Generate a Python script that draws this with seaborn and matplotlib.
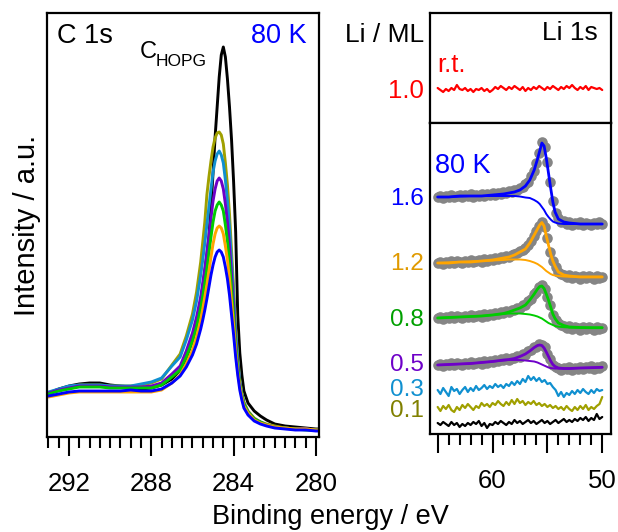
import matplotlib
matplotlib.use("Agg")
import matplotlib.pyplot as plt
import seaborn as sns
from matplotlib.ticker import MultipleLocator, FixedLocator, FixedFormatter

# ---------------- C 1s panel data (binding energy / eV, intensity a.u.) ----------------
c1s_be = [293.0, 292.5, 292.0, 291.5, 291.0, 290.5, 290.0, 289.5, 289.0, 288.5, 288.0, 287.5, 287.0,
          286.6, 286.3, 286.0, 285.8, 285.6, 285.5, 285.4, 285.3, 285.2, 285.1,
          285.0, 284.9, 284.8, 284.7, 284.6, 284.5, 284.4, 284.3, 284.2, 284.1, 284.0, 283.9, 283.8, 283.7, 283.6, 283.5,
          283.3, 283.0, 282.7, 282.4, 282.0, 281.5, 281.0, 280.5, 280.0, 279.9]
c1s_hopg = [44, 48, 51, 53, 54, 54, 52, 51, 50, 48, 49, 52, 58,
            67, 79, 96, 112, 137, 150, 166, 182, 200, 230,
            264, 300, 330, 360, 382, 390, 380, 358, 330, 297, 255, 205, 122, 84, 62, 46,
            34, 26, 21, 17, 13, 11, 10, 9, 8, 8]
c1s_01 = [44, 47, 50, 52, 52, 52, 51, 51, 51, 52, 54, 58, 72,
          83, 101, 123, 145, 175, 195, 215, 242, 260, 276,
          290, 299, 304, 305, 302, 293, 274, 252, 223, 186, 149, 109, 80, 57, 44, 35,
          26, 19, 15, 13, 11, 9, 8, 8, 7, 7]
c1s_03 = [45, 48, 51, 52, 52, 52, 51, 51, 51, 53, 55, 59, 71,
          80, 97, 117, 136, 162, 177, 194, 212, 230, 248,
          265, 276, 283, 286, 282, 274, 257, 236, 209, 175, 141, 104, 78, 56, 43, 34,
          25, 18, 15, 12, 10, 9, 8, 8, 7, 7]
c1s_05 = [44, 47, 49, 51, 51, 51, 50, 50, 50, 50, 51, 54, 63,
          71, 86, 104, 120, 140, 154, 168, 184, 201, 219,
          236, 248, 256, 259, 256, 248, 233, 215, 191, 161, 131, 97, 73, 54, 42, 33,
          25, 18, 15, 12, 10, 9, 8, 8, 7, 7]
c1s_08 = [43, 46, 48, 50, 50, 50, 49, 49, 49, 49, 49, 52, 60,
          67, 80, 96, 110, 129, 141, 154, 168, 184, 200,
          215, 226, 232, 235, 232, 226, 212, 196, 175, 148, 121, 92, 70, 53, 42, 33,
          25, 18, 15, 12, 10, 9, 8, 7, 7, 7]
c1s_12 = [40, 42, 44, 45, 45, 45, 45, 45, 45, 45, 45, 47, 54,
          62, 73, 87, 100, 117, 128, 140, 152, 166, 180,
          193, 203, 209, 211, 209, 203, 191, 177, 158, 135, 112, 86, 65, 51, 40, 31,
          24, 17, 14, 12, 10, 9, 8, 8, 7, 7]
c1s_16 = [41, 43, 45, 46, 46, 46, 46, 46, 47, 46, 46, 48, 54,
          61, 70, 82, 93, 108, 117, 127, 138, 150, 162,
          172, 180, 185, 187, 185, 180, 170, 158, 142, 122, 102, 80, 62, 47, 37, 29,
          22, 16, 13, 11, 9, 8, 7, 7, 6, 6]

# ---------------- Li 1s panel data ----------------
li_fit_be = [65, 64, 63, 62, 61, 60, 59, 58.5, 58, 57.5, 57,
             56.6, 56.2, 55.9, 55.7, 55.5, 55.3, 55.1, 54.9, 54.7, 54.5, 54.3, 54.0,
             53.5, 53, 52, 51, 50]
fit16 = [237, 237, 238, 238, 238, 239, 240, 241, 242, 244, 248,
         254, 264, 275, 283, 291, 288, 276, 261, 246, 232, 222, 215,
         212, 211, 210, 210, 210]
bg16 = [237, 237, 237.5, 238, 238, 238, 238, 238, 238, 237.5, 236.5,
        236, 234, 232, 230, 227, 224, 220, 217, 214.5, 212.5, 211.5, 210.5,
        210, 210, 210, 210, 210]
fit12 = [171, 171, 172, 172, 173, 174, 176, 177, 179, 182, 185,
         191, 199, 205, 209, 211.5, 208, 198, 189, 180, 173, 168, 162,
         159, 158, 157, 157, 157]
bg12 = [171, 171.5, 172, 172.5, 173, 173.5, 174, 174.5, 174.5, 174.5, 174,
        173, 171.5, 170, 168.5, 167, 165, 163, 161.5, 160, 159, 158.5, 158,
        157.5, 157.3, 157.3, 157.3, 157.3]
fit08 = [116, 116.5, 117, 117.5, 118, 119, 120.5, 122, 124, 126, 129,
         134, 140, 145, 147.5, 148, 145.5, 140, 134, 127, 120, 115.5, 111,
         108.5, 107, 106.5, 106.3, 106.3]
bg08 = [116, 116.5, 117, 117.5, 118, 119, 120, 120.5, 120.5, 120.5, 120,
        119.5, 118.5, 117.5, 116.5, 115.5, 114, 112.5, 111, 110, 109, 108, 107.3,
        106.8, 106.5, 106.3, 106.3, 106.3]
fit05 = [69, 69.5, 70, 70.5, 71.5, 72.5, 74, 74.5, 75.5, 77.5, 80,
         83, 86.5, 88.5, 89, 88.5, 86, 82, 77.5, 73, 69.5, 67.5, 66,
         65.5, 65.5, 66, 66.3, 66.7]
bg05 = [69, 69.5, 70, 70.5, 71.5, 72.5, 73.5, 74, 74, 74, 73.5,
        73, 72.5, 71.5, 70.5, 69.5, 68.5, 67.5, 66.5, 66, 65.7, 65.5, 65.5,
        65.5, 65.5, 66, 66.3, 66.7]

li_be = [65.0, 64.75, 64.5, 64.25, 64.0, 63.75, 63.5, 63.25, 63.0, 62.75,
         62.5, 62.25, 62.0, 61.75, 61.5, 61.25, 61.0, 60.75, 60.5, 60.25,
         60.0, 59.75, 59.5, 59.25, 59.0, 58.75, 58.5, 58.25, 58.0, 57.75,
         57.5, 57.25, 57.0, 56.75, 56.5, 56.25, 56.0, 55.75, 55.5, 55.25,
         55.0, 54.75, 54.5, 54.25, 54.0, 53.75, 53.5, 53.25, 53.0, 52.75,
         52.5, 52.25, 52.0, 51.75, 51.5, 51.25, 51.0, 50.75, 50.5, 50.25,
         50.0]
pts16 = [237, 238, 236, 238, 237, 239, 237, 238, 239, 237,
         239, 238, 240, 237, 239, 238, 240, 238, 240, 239,
         241, 239, 241, 240, 242, 241, 243, 242, 244, 244,
         246, 247, 250, 252, 258, 263, 271, 281, 292, 287,
         272, 252, 233, 221, 216, 212, 213, 210, 212, 209,
         211, 210, 212, 209, 211, 210, 209, 211, 210, 212,
         210]
pts12 = [171, 172, 170, 172, 171, 173, 171, 173, 172, 171,
         173, 172, 174, 172, 173, 174, 172, 175, 173, 175,
         174, 176, 175, 177, 176, 178, 177, 179, 180, 181,
         183, 184, 186, 189, 193, 198, 203, 208, 212, 207,
         196, 182, 173, 167, 162, 160, 159, 157, 159, 156,
         158, 157, 155, 158, 156, 158, 157, 155, 158, 156,
         157]
pts08 = [116, 117, 115, 117, 116, 118, 116, 118, 117, 116,
         118, 117, 119, 117, 118, 119, 117, 120, 118, 120,
         119, 121, 120, 122, 121, 123, 122, 124, 124, 126,
         126, 129, 129, 133, 135, 140, 142, 147, 149, 145,
         137, 129, 119, 114, 111, 109, 108, 106, 108, 105,
         107, 106, 104, 107, 105, 107, 106, 104, 107, 105,
         106]
pts05 = [69, 70, 68, 70, 69, 71, 69, 71, 70, 69,
         71, 70, 72, 70, 71, 72, 70, 73, 71, 73,
         72, 74, 73, 75, 74, 76, 74, 76, 76, 78,
         77, 80, 79, 83, 84, 87, 87, 90, 89, 87,
         80, 75, 69, 67, 66, 64, 66, 65, 67, 64,
         66, 65, 67, 65, 67, 66, 68, 65, 67, 66,
         68]
trace03 = [44, 40, 46, 42, 38, 47, 43, 45, 40, 44,
           47, 42, 46, 43, 48, 44, 46, 49, 45, 48,
           46, 50, 47, 49, 46, 50, 48, 52, 49, 53,
           50, 55, 52, 58, 54, 57, 53, 56, 52, 54,
           50, 51, 47, 44, 38, 42, 37, 41, 39, 43,
           40, 44, 41, 45, 42, 40, 44, 41, 45, 43,
           44]
trace01 = [27, 23, 28, 25, 29, 24, 22, 27, 24, 29,
           26, 30, 27, 24, 28, 26, 31, 28, 30, 27,
           31, 29, 33, 30, 28, 32, 29, 34, 30, 35,
           31, 33, 29, 32, 30, 33, 29, 31, 28, 30,
           27, 29, 26, 28, 25, 27, 24, 28, 25, 23,
           27, 24, 28, 25, 29, 24, 27, 25, 28, 30,
           37]
trace00 = [11, 9, 12, 10, 8, 12, 9, 11, 7, 10,
           8, 11, 9, 12, 10, 13, 8, 11, 6, 10,
           9, 12, 10, 13, 11, 9, 12, 10, 14, 11,
           13, 10, 12, 14, 11, 13, 10, 12, 14, 11,
           13, 10, 12, 14, 11, 13, 15, 12, 14, 12,
           15, 13, 16, 14, 17, 13, 16, 14, 20, 15,
           17]
trace_rt = [35, 33, 31, 34, 32, 35, 33, 38, 34, 33,
            35, 32, 34, 31, 34, 33, 35, 32, 34, 31,
            33, 36, 34, 37, 35, 33, 36, 34, 37, 35,
            33, 36, 32, 35, 33, 36, 34, 37, 35, 33,
            36, 34, 37, 35, 33, 36, 34, 37, 35, 38,
            35, 33, 36, 34, 37, 33, 36, 35, 34, 35,
            33]

coverage_labels = ["1.6", "1.2", "0.8", "0.5", "0.3", "0.1"]

# ---------------- styling ----------------
sns.set_theme(style="ticks")
plt.rcParams['font.family'] = ['Liberation Sans', 'DejaVu Sans']
plt.rcParams['text.color'] = 'black'
plt.rcParams['axes.labelcolor'] = 'black'
plt.rcParams['xtick.color'] = 'black'
plt.rcParams['ytick.color'] = 'black'

C_BLUE = "#0000FF"
C_ORANGE = "#FFA500"
C_GREEN = "#00CC00"
C_PURPLE = "#6E00C8"
C_CYAN = "#1090D0"
C_OLIVE = "#A0A000"
C_GRAY = "#858585"

W, H = 618, 532
fig = plt.figure(figsize=(W / 100, H / 100), dpi=100)


def ax_px(l, t, r, b):
    return fig.add_axes([l / W, 1 - b / H, (r - l) / W, (b - t) / H])


def txt(x, y, s, **kw):
    kw.setdefault("va", "baseline")
    kw.setdefault("color", "black")
    fig.text(x / W, 1 - y / H, s, **kw)


axL = ax_px(47, 13, 319, 437)
axT = ax_px(430, 13, 611, 123)
axB = ax_px(430, 123, 611, 434)

for ax in (axL, axT, axB):
    for sp in ax.spines.values():
        sp.set_visible(True)
        sp.set_color("black")
        sp.set_linewidth(1.6)
    ax.set_facecolor("white")

# ---- left panel ----
left_series = [(c1s_hopg, "black"), (c1s_01, C_OLIVE), (c1s_03, C_CYAN), (c1s_05, C_PURPLE),
               (c1s_08, C_GREEN), (c1s_12, C_ORANGE), (c1s_16, C_BLUE)]
for ys, col in left_series:
    sns.lineplot(x=c1s_be, y=ys, ax=axL, color=col, linewidth=2.1)
axL.set_xlim(293.07, 279.85)
axL.set_ylim(0, 424)
axL.set_yticks([])
axL.xaxis.set_major_locator(MultipleLocator(4))
axL.xaxis.set_minor_locator(MultipleLocator(0.5))
axL.set_xlabel("")
axL.set_ylabel("")

# ---- top right panel (r.t.) ----
sns.lineplot(x=li_be, y=trace_rt, ax=axT, color="red", linewidth=1.6)
axT.set_xlim(65.7, 49.2)
axT.set_ylim(0, 110)
axT.set_xticks([])
axT.set_yticks([])
axT.set_xlabel("")
axT.set_ylabel("")

# ---- bottom right panel (80 K) ----
sns.lineplot(x=li_be, y=trace00, ax=axB, color="black", linewidth=1.6)
sns.lineplot(x=li_be, y=trace01, ax=axB, color=C_OLIVE, linewidth=1.6)
sns.lineplot(x=li_be, y=trace03, ax=axB, color=C_CYAN, linewidth=1.6)
for pts, fit, bg, col in [(pts05, fit05, bg05, C_PURPLE), (pts08, fit08, bg08, C_GREEN),
                          (pts12, fit12, bg12, C_ORANGE), (pts16, fit16, bg16, C_BLUE)]:
    sns.scatterplot(x=li_be, y=pts, ax=axB, color=C_GRAY, s=58, linewidth=0, zorder=2)
    sns.lineplot(x=li_fit_be, y=bg, ax=axB, color=col, linewidth=1.4, zorder=3)
    sns.lineplot(x=li_fit_be, y=fit, ax=axB, color=col, linewidth=2.0, zorder=4)
axB.set_xlim(65.7, 49.2)
axB.set_ylim(0, 311)
axB.set_yticks([])
axB.xaxis.set_major_locator(FixedLocator([65, 60, 55, 50]))
axB.xaxis.set_major_formatter(FixedFormatter(["", "60", "", "50"]))
axB.xaxis.set_minor_locator(MultipleLocator(1))
axB.set_xlabel("")
axB.set_ylabel("")

for ax in (axL, axB):
    ax.tick_params(axis="x", which="major", direction="out", length=14, width=1.5,
                   labelsize=18.5, pad=11, bottom=True, top=False, colors="black")
    ax.tick_params(axis="x", which="minor", direction="out", length=8, width=1.5,
                   bottom=True, top=False, colors="black")

# ---- texts ----
txt(57, 43, "C 1s", ha="left", fontsize=19.5)
txt(307, 43, "80 K", ha="right", fontsize=19.5, color=C_BLUE)
txt(140, 58, "C", ha="left", fontsize=17)
txt(156, 66, "HOPG", ha="left", fontsize=12.5)
txt(424, 42, "Li / ML", ha="right", fontsize=19)
txt(598, 40, "Li 1s", ha="right", fontsize=19)
txt(437, 72, "r.t.", ha="left", fontsize=18.5, color="red")
txt(424, 98, "1.0", ha="right", fontsize=18.5, color="red")
txt(435, 173, "80 K", ha="left", fontsize=19.5, color=C_BLUE)

label_y = [205, 270, 326, 371, 396, 417]
label_c = [C_BLUE, "#E09A00", "#00A000", C_PURPLE, C_CYAN, "#808000"]
for s, y, c in zip(coverage_labels, label_y, label_c):
    txt(424, y, s, ha="right", fontsize=17.5, color=c)

txt(27, 225, "Intensity / a.u.", ha="center", va="center", rotation=90, fontsize=21)
txt(330, 524, "Binding energy / eV", ha="center", fontsize=19.5)

fig.savefig("out.png", dpi=100, facecolor="white")
